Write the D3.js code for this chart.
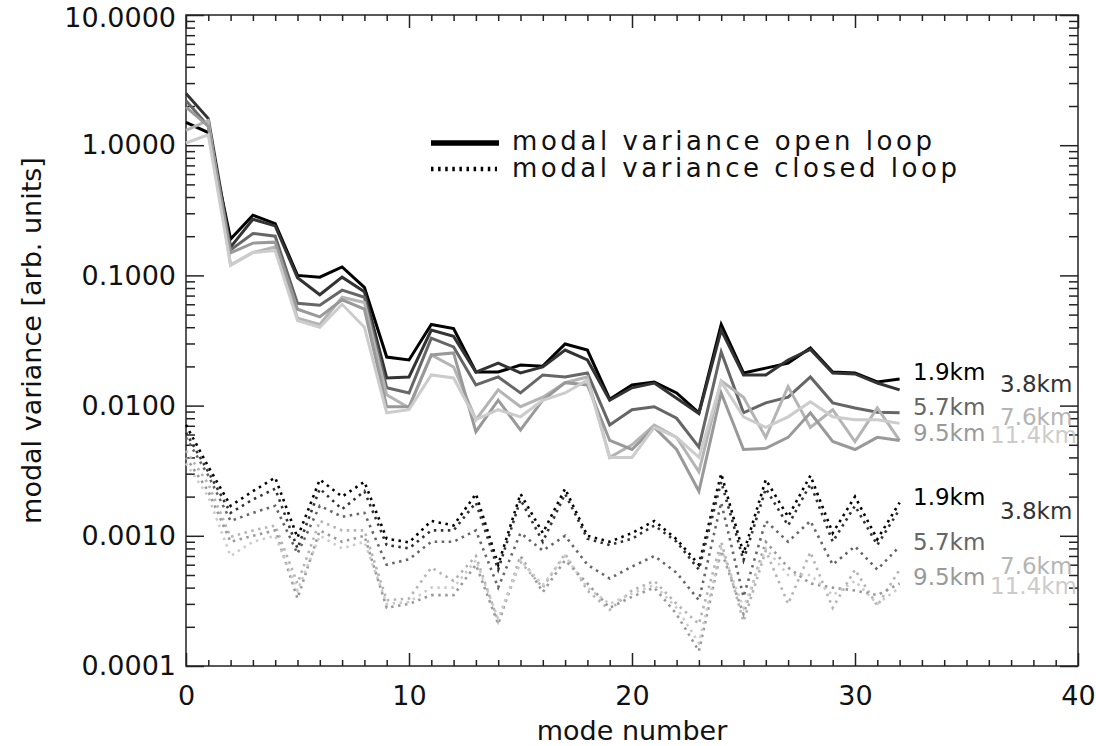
<!DOCTYPE html>
<html>
<head>
<meta charset="utf-8">
<script src="https://cdn.jsdelivr.net/npm/d3@7"></script>
<style>
  body { margin: 0; background: #fff; }
  text { font-family: "DejaVu Sans", sans-serif; fill: #111; }
</style>
</head>
<body>
<div id="chart"></div>
<script>
// mode numbers 0..32
const modes = d3.range(0, 33);

const distances = ["1.9km", "3.8km", "5.7km", "7.6km", "9.5km", "11.4km"];
const greys = ["#000000", "#333333", "#666666", "#b4b4b4", "#999999", "#cccccc"];

// modal variance, open loop (solid)
const open19 = [1.5, 1.25, 0.19, 0.29, 0.25, 0.10, 0.097, 0.116, 0.081, 0.0236, 0.0224, 0.042, 0.039, 0.0181, 0.0181, 0.0205, 0.0201, 0.0297, 0.0267, 0.0112, 0.0144, 0.0152, 0.0125, 0.0088, 0.042, 0.0178, 0.0194, 0.0212, 0.0277, 0.0181, 0.0178, 0.0152, 0.0160];
const open38 = [2.5, 1.6, 0.165, 0.27, 0.24, 0.096, 0.071, 0.097, 0.075, 0.0163, 0.0166, 0.038, 0.034, 0.0181, 0.0212, 0.0178, 0.0198, 0.0267, 0.0224, 0.0110, 0.0137, 0.0149, 0.0114, 0.0087, 0.038, 0.0172, 0.0172, 0.0224, 0.027, 0.0178, 0.0175, 0.0149, 0.0132];
const open57 = [2.2, 1.4, 0.157, 0.21, 0.2, 0.061, 0.059, 0.077, 0.068, 0.0137, 0.0125, 0.033, 0.0282, 0.0144, 0.0166, 0.0125, 0.0172, 0.0166, 0.0178, 0.0071, 0.0093, 0.0098, 0.0080, 0.0048, 0.0258, 0.0088, 0.0105, 0.0116, 0.0166, 0.0105, 0.0096, 0.0089, 0.0088];
const open76 = [1.3, 1.55, 0.12, 0.15, 0.165, 0.047, 0.042, 0.068, 0.062, 0.0121, 0.0096, 0.0245, 0.0198, 0.0078, 0.0132, 0.0098, 0.0116, 0.015, 0.0166, 0.0040, 0.005, 0.0071, 0.0057, 0.0031, 0.0155, 0.0116, 0.0057, 0.0140, 0.0068, 0.0093, 0.0053, 0.0096, 0.0054];
const open95 = [1.96, 1.4, 0.149, 0.177, 0.18, 0.055, 0.048, 0.065, 0.055, 0.0098, 0.0098, 0.0245, 0.0254, 0.0063, 0.011, 0.0065, 0.011, 0.0150, 0.0144, 0.0054, 0.0046, 0.0068, 0.0046, 0.0022, 0.0125, 0.0046, 0.0047, 0.0057, 0.0088, 0.0053, 0.0046, 0.0057, 0.0054];
const open114 = [1.04, 1.2, 0.12, 0.15, 0.155, 0.045, 0.04, 0.06, 0.04, 0.0088, 0.0093, 0.0172, 0.0163, 0.0078, 0.0093, 0.0082, 0.011, 0.0125, 0.0157, 0.0040, 0.0040, 0.0068, 0.0057, 0.0040, 0.0152, 0.0082, 0.0068, 0.0082, 0.0107, 0.0082, 0.0078, 0.0078, 0.0073];

// modal variance, closed loop (dotted)
const closed19 = [0.0071, 0.0034, 0.0017, 0.0022, 0.0028, 0.00097, 0.0027, 0.0020, 0.0026, 0.00095, 0.00089, 0.0013, 0.0012, 0.0021, 0.0006, 0.0021, 0.00105, 0.0023, 0.0010, 0.0009, 0.00105, 0.0013, 0.00094, 0.0006, 0.0030, 0.00073, 0.0027, 0.0014, 0.0029, 0.00105, 0.0020, 0.00094, 0.0018];
const closed38 = [0.0062, 0.0031, 0.0015, 0.0019, 0.0023, 0.0008, 0.0023, 0.0016, 0.0022, 0.00085, 0.0008, 0.0011, 0.0011, 0.0018, 0.00055, 0.0019, 0.0009, 0.0021, 0.00095, 0.00085, 0.00095, 0.0012, 0.0009, 0.00055, 0.0026, 0.00065, 0.0023, 0.0012, 0.0025, 0.0009, 0.0017, 0.00085, 0.0016];
const closed57 = [0.0057, 0.0029, 0.0013, 0.0015, 0.0017, 0.00073, 0.0017, 0.0014, 0.0015, 0.0006, 0.00066, 0.0009, 0.0009, 0.0011, 0.0004, 0.00105, 0.00077, 0.0010, 0.0006, 0.00047, 0.00058, 0.0007, 0.00052, 0.00032, 0.0018, 0.00034, 0.0013, 0.0009, 0.0013, 0.0006, 0.00083, 0.00055, 0.00083];
const closed76 = [0.0045, 0.0025, 0.00098, 0.0011, 0.0012, 0.00043, 0.0013, 0.0011, 0.0011, 0.00032, 0.00033, 0.00057, 0.00045, 0.0007, 0.00022, 0.00063, 0.0004, 0.00073, 0.00038, 0.00027, 0.00038, 0.00045, 0.0003, 0.00021, 0.0009, 0.00022, 0.00077, 0.0003, 0.00075, 0.00028, 0.00055, 0.00029, 0.00055];
const closed95 = [0.0040, 0.0022, 0.0009, 0.001, 0.0011, 0.00033, 0.0011, 0.0009, 0.001, 0.00028, 0.0003, 0.00035, 0.00035, 0.0006, 0.00021, 0.0007, 0.00037, 0.00065, 0.00043, 0.00028, 0.00034, 0.0004, 0.00025, 0.00013, 0.00077, 0.00025, 0.0009, 0.00057, 0.00043, 0.0004, 0.00038, 0.00035, 0.00043];
const closed114 = [0.0036, 0.002, 0.0007, 0.0009, 0.001, 0.00038, 0.001, 0.0008, 0.0009, 0.0003, 0.00031, 0.0004, 0.0004, 0.00065, 0.00023, 0.00065, 0.00042, 0.0007, 0.0004, 0.0003, 0.00036, 0.00042, 0.00028, 0.00015, 0.0008, 0.00028, 0.0008, 0.0005, 0.0005, 0.00035, 0.00045, 0.0003, 0.0004];

const xMajor = [0, 10, 20, 30, 40];
const yMajor = [1e-4, 1e-3, 1e-2, 1e-1, 1, 10];

const openSeries = [open19, open38, open57, open76, open95, open114];
const closedSeries = [closed19, closed38, closed57, closed76, closed95, closed114];

const W = 1096, H = 746;
const plot = { left: 186, right: 1078, top: 15, bottom: 666 };

const svg = d3.select("#chart")
  .append("svg")
  .attr("width", W)
  .attr("height", H);

const x = d3.scaleLinear().domain([0, 40]).range([plot.left, plot.right]);
const y = d3.scaleLog().domain([1e-4, 10]).range([plot.bottom, plot.top]);

// minor log ticks 2..9 in each decade
const yMinor = [];
yMajor.slice(0, -1).forEach(d => { for (let k = 2; k <= 9; k++) yMinor.push(d * k); });
const xMinor = d3.range(0, 41).filter(d => d % 10 !== 0);

const fmt = d3.format(".4f");
const axisColor = "#222";

function styleAxis(g, size) {
  g.select(".domain").remove();
  g.selectAll("line").attr("stroke", axisColor).attr("stroke-width", 1.5);
  g.selectAll("text").attr("fill", "#111").style("font-size", (size || 27) + "px")
    .style("font-family", "'DejaVu Sans', sans-serif");
}

// bottom / top
svg.append("g").attr("transform", `translate(0,${plot.bottom})`)
  .call(d3.axisBottom(x).tickValues(xMajor).tickSize(-13).tickPadding(20).tickFormat(d3.format("d")))
  .call(styleAxis, 27);
svg.append("g").attr("transform", `translate(0,${plot.bottom})`)
  .call(d3.axisBottom(x).tickValues(xMinor).tickSize(-6).tickFormat(""))
  .call(styleAxis);
svg.append("g").attr("transform", `translate(0,${plot.top})`)
  .call(d3.axisTop(x).tickValues(xMajor).tickSize(-13).tickFormat(""))
  .call(styleAxis);
svg.append("g").attr("transform", `translate(0,${plot.top})`)
  .call(d3.axisTop(x).tickValues(xMinor).tickSize(-6).tickFormat(""))
  .call(styleAxis);

// left / right
svg.append("g").attr("transform", `translate(${plot.left},0)`)
  .call(d3.axisLeft(y).tickValues(yMajor).tickSize(-18).tickPadding(10).tickFormat(fmt))
  .call(styleAxis, 27)
  .selectAll("text").attr("dy", d => d === 10 ? "0.42em" : "0.32em");
svg.append("g").attr("transform", `translate(${plot.left},0)`)
  .call(d3.axisLeft(y).tickValues(yMinor).tickSize(-9).tickFormat(""))
  .call(styleAxis);
svg.append("g").attr("transform", `translate(${plot.right},0)`)
  .call(d3.axisRight(y).tickValues(yMajor).tickSize(-18).tickFormat(""))
  .call(styleAxis);
svg.append("g").attr("transform", `translate(${plot.right},0)`)
  .call(d3.axisRight(y).tickValues(yMinor).tickSize(-9).tickFormat(""))
  .call(styleAxis);

svg.append("rect")
  .attr("x", plot.left).attr("y", plot.top)
  .attr("width", plot.right - plot.left).attr("height", plot.bottom - plot.top)
  .attr("fill", "none").attr("stroke", axisColor).attr("stroke-width", 1.5);

const line = d3.line().x((d, i) => x(modes[i])).y(d => y(d));

svg.append("g").selectAll("path.open")
  .data(openSeries)
  .enter()
  .append("path")
  .attr("class", "open")
  .attr("d", line)
  .attr("fill", "none")
  .attr("stroke", (d, i) => greys[i])
  .attr("stroke-width", 3)
  .attr("stroke-linejoin", "miter");

svg.append("g").selectAll("path.closed")
  .data(closedSeries)
  .enter()
  .append("path")
  .attr("class", "closed")
  .attr("d", line)
  .attr("fill", "none")
  .attr("stroke", (d, i) => greys[i])
  .attr("stroke-width", 2.6)
  .attr("stroke-dasharray", "2.5,4.5");

// distance labels next to the curve ends
const labelCol = [913, 1000, 913, 1000, 913, 990];
const openRow = [372, 384, 407, 417, 433, 435];
const closedRow = [497, 511, 542, 566, 577, 586];

function distLabels(rows) {
  svg.append("g").selectAll("text")
    .data(distances)
    .enter()
    .append("text")
    .attr("x", (d, i) => labelCol[i])
    .attr("y", (d, i) => rows[i])
    .attr("dy", "0.36em")
    .style("fill", (d, i) => greys[i])
    .style("font-size", "23px")
    .text(d => d);
}
distLabels(openRow);
distLabels(closedRow);

// legend
const legend = svg.append("g");
legend.append("line")
  .attr("x1", 431).attr("x2", 499).attr("y1", 143).attr("y2", 143)
  .attr("stroke", "#000").attr("stroke-width", 5.5);
legend.append("line")
  .attr("x1", 431).attr("x2", 497).attr("y1", 169).attr("y2", 169)
  .attr("stroke", "#000").attr("stroke-width", 4.5).attr("stroke-dasharray", "2.5,4.6");
legend.append("text")
  .attr("x", 512).attr("y", 150)
  .attr("textLength", 420).attr("lengthAdjust", "spacing")
  .style("font-size", "26px")
  .text("modal variance open loop");
legend.append("text")
  .attr("x", 512).attr("y", 177)
  .attr("textLength", 445).attr("lengthAdjust", "spacing")
  .style("font-size", "26px")
  .text("modal variance closed loop");

// axis titles
svg.append("text")
  .attr("x", (plot.left + plot.right) / 2).attr("y", 740)
  .attr("text-anchor", "middle")
  .style("font-size", "27px")
  .text("mode number");

svg.append("text")
  .attr("transform", `translate(41,${(plot.top + plot.bottom) / 2}) rotate(-90)`)
  .attr("text-anchor", "middle")
  .style("font-size", "27px")
  .text("modal variance [arb. units]");
</script>
</body>
</html>
